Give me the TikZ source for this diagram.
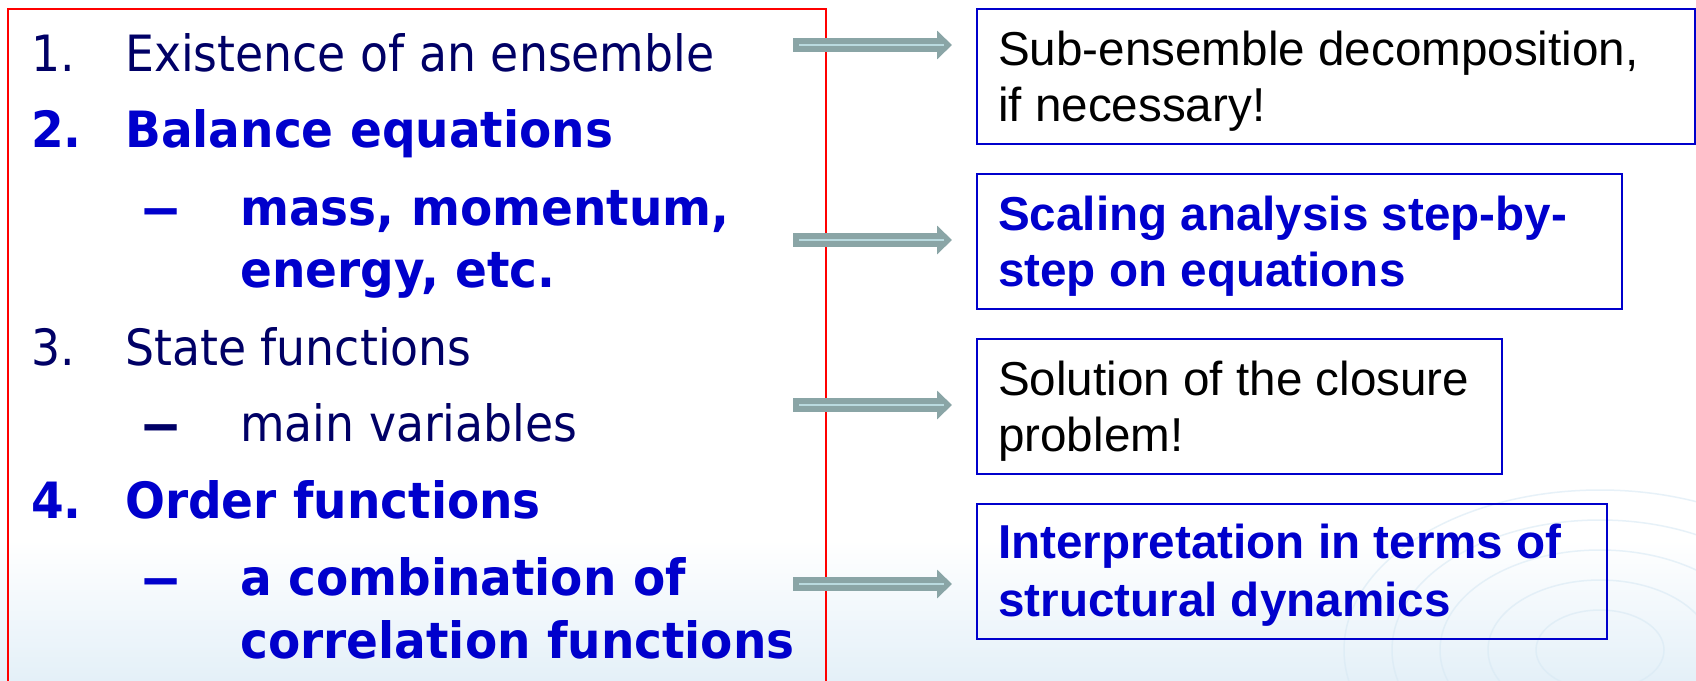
\documentclass[tikz,border=0pt]{standalone}
\usepackage{fontspec}
\usepackage{graphicx}
\setmainfont{Liberation Sans}
\newfontfamily\tahreg[FakeStretch=0.915]{DejaVu Sans}
\newfontfamily\tahbold[FakeStretch=0.94]{DejaVu Sans}
\usetikzlibrary{arrows.meta}
\definecolor{navy}{HTML}{000066}
\definecolor{vblue}{HTML}{0000CC}
\definecolor{redline}{HTML}{FF0000}
\definecolor{arrgray}{HTML}{8AA5A6}
\definecolor{arrlight}{HTML}{B9DADF}
\definecolor{bgblue}{HTML}{E4F0F8}
\definecolor{swirl}{HTML}{D8E9F4}
\newcommand{\longdash}{\scalebox{1.75}[1]{–}}
\tikzset{
  lreg/.style={anchor=base west, inner sep=0pt, text=navy, font=\tahreg\fontsize{50}{60}\selectfont},
  lbold/.style={anchor=base west, inner sep=0pt, text=vblue, font=\tahbold\bfseries\fontsize{50}{60}\selectfont},
  rbox/.style={draw=vblue, line width=2pt, anchor=north west, inner sep=0pt, minimum height=135pt},
  rtxt/.style={anchor=base west, inner sep=0pt, text=black, font=\fontsize{47.6}{56}\selectfont},
  rbold/.style={anchor=base west, inner sep=0pt, text=vblue, font=\bfseries\fontsize{47.6}{56}\selectfont},
  bigarrow/.style={arrgray, line width=13.4pt, -{Triangle[length=15pt,width=28pt]}},
  arrowhi/.style={arrlight, line width=2.7pt}
}
\begin{document}
\begin{tikzpicture}[x=1pt,y=-1pt]
\clip (0,0) rectangle (1696,680);
\fill[white] (0,0) rectangle (1696,680);
% faint background wash
\shade[top color=white, bottom color=bgblue] (0,540) rectangle (1696,680);
\foreach \r in {40,70,100,130,160}{
  \draw[swirl, line width=1.5pt, opacity=0.6] (1600,650) ellipse ({\r*1.6} and \r);
}
% red frame
\node[draw=redline, line width=2pt, anchor=north west, minimum width=818pt, minimum height=720pt, inner sep=0pt] (frame) at (7,8) {};
% left list
\node[lreg] (n1) at (31,71) {1.};
\node[lreg] (t1) at (125,71) {Existence of an ensemble};
\node[lbold] (n2) at (31,147.7) {2.};
\node[lbold] (t2) at (125,147.7) {Balance equations};
\node[lbold] (d2) at (140,225) {\longdash};
\node[lbold] (t2a) at (240,225) {mass, momentum,};
\node[lbold] (t2b) at (240,287) {energy, etc.};
\node[lreg] (n3) at (31,365) {3.};
\node[lreg] (t3) at (125,365) {State functions};
\node[lbold, text=navy] (d3) at (140,441.7) {\longdash};
\node[lreg] (t3a) at (240,441.7) {main variables};
\node[lbold] (n4) at (31,518.3) {4.};
\node[lbold] (t4) at (125,518.3) {Order functions};
\node[lbold] (d4) at (140,595) {\longdash};
\node[lbold] (t4a) at (240,595) {a combination of};
\node[lbold] (t4b) at (240,658.3) {correlation functions};
% right boxes
\node[rbox, minimum width=718pt] (b1) at (976,8) {};
\node[rtxt] (b1a) at (998,65) {Sub-ensemble decomposition,};
\node[rtxt] (b1b) at (998,121.7) {if necessary!};
\node[rbox, minimum width=645pt] (b2) at (976,173) {};
\node[rbold] (b2a) at (998,230) {Scaling analysis step-by-};
\node[rbold] (b2b) at (998,286.7) {step on equations};
\node[rbox, minimum width=525pt] (b3) at (976,338) {};
\node[rtxt] (b3a) at (998,395) {Solution of the closure};
\node[rtxt] (b3b) at (998,451.7) {problem!};
\node[rbox, minimum width=630pt] (b4) at (976,503) {};
\node[rbold] (b4a) at (998,558.3) {Interpretation in terms of};
\node[rbold] (b4b) at (998,616.7) {structural dynamics};
% arrows
\coordinate (a1s) at (793,45);  \coordinate (a1e) at (952,45);
\coordinate (a2s) at (793,240); \coordinate (a2e) at (952,240);
\coordinate (a3s) at (793,405); \coordinate (a3e) at (952,405);
\coordinate (a4s) at (793,584); \coordinate (a4e) at (952,584);
\foreach \i in {1,2,3,4}{
  \draw[bigarrow] (a\i s) -- (a\i e);
  \draw[arrowhi] ([xshift=6pt]a\i s) -- ([xshift=-8pt]a\i e);
}
\end{tikzpicture}
\end{document}
